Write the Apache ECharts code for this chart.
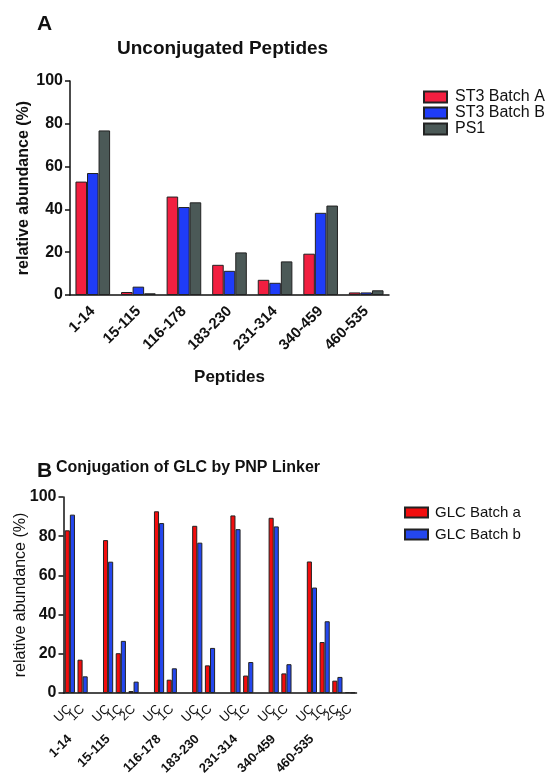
<!DOCTYPE html>
<html>
<head>
<meta charset="utf-8">
<script src="https://cdn.jsdelivr.net/npm/echarts@6/dist/echarts.min.js"></script>
<style>
html,body{margin:0;padding:0;background:#fff;}
#chartmain{width:554px;height:773px;}
</style>
</head>
<body>
<div id="chartmain"></div>
<script>
// panel A - unconjugated peptides
var peptides = ['1-14', '15-115', '116-178', '183-230', '231-314', '340-459', '460-535'];
var st3BatchA = [53, 1.4, 46, 14.1, 7.1, 19.3, 1.2];
var st3BatchB = [57, 3.9, 41.1, 11.3, 5.7, 38.4, 1.2];
var ps1 = [76.9, 0.8, 43.3, 19.9, 15.7, 41.8, 2.2];

// panel B - one slot per conjugation state, '' slots are spacers
var subLabelsB = ['UC', '1C', '', 'UC', '1C', '2C', '', 'UC', '1C', '', 'UC', '1C', '', 'UC', '1C', '', 'UC', '1C', '', 'UC', '1C', '2C', '3C'];
var groupLabelsB = ['1-14', '', '', '15-115', '', '', '', '116-178', '', '', '183-230', '', '', '231-314', '', '', '340-459', '', '', '460-535', '', '', ''];
var glcBatchA = [83, 17, '-', 78, 20.3, 1, '-', 92.7, 6.8, '-', 85.3, 14.1, '-', 90.6, 8.9, '-', 89.4, 10, '-', 67.1, 26, 6.3, 0.5];
var glcBatchB = [91, 8.5, '-', 67, 26.6, 5.8, '-', 86.7, 12.6, '-', 76.7, 23, '-', 83.6, 15.8, '-', 85, 14.7, '-', 53.8, 36.6, 8.2, 0.3];

var yMin = 0, yMax = 100, yStep = 20;

var font = 'Liberation Sans';
var ink = '#111';

var slotIds = subLabelsB.map(function (s, i) { return 'slot' + i; });

function valueAxis(gridIndex, nameGap, nameWeight) {
    return {
        type: 'value',
        gridIndex: gridIndex,
        min: yMin,
        max: yMax,
        interval: yStep,
        name: 'relative abundance (%)',
        nameLocation: 'middle',
        nameGap: nameGap,
        nameMoveOverlap: false,
        nameTextStyle: {color: ink, fontFamily: font, fontSize: 16, fontWeight: nameWeight},
        splitLine: {show: false},
        axisLine: {show: true, lineStyle: {color: ink, width: 1.5}},
        axisTick: {show: true, length: 5, lineStyle: {color: ink, width: 1.5}},
        axisLabel: {color: ink, fontFamily: font, fontSize: 16, fontWeight: 'bold', margin: 7}
    };
}

function titleText(text, left, top, size) {
    return {text: text, left: left, top: top, padding: 0,
        textStyle: {color: ink, fontFamily: font, fontSize: size, fontWeight: 'bold'}};
}

var barBorder = {borderColor: '#222', borderWidth: 1};

option = {
    animation: false,
    backgroundColor: '#fff',
    title: [
        titleText('A', 37, 14, 21),
        titleText('Unconjugated Peptides', 117, 39, 19),
        titleText('B', 37, 461, 21),
        titleText('Conjugation of GLC by PNP Linker', 56, 460, 16)
    ],
    legend: [
        {
            data: ['ST3 Batch A', 'ST3 Batch B', 'PS1'],
            orient: 'vertical',
            left: 418,
            top: 84,
            icon: 'rect',
            itemWidth: 23,
            itemHeight: 11,
            itemGap: 0,
            textStyle: {color: ink, fontFamily: font, fontSize: 16, padding: [0, 0, 0, 3]}
        },
        {
            data: ['GLC Batch a', 'GLC Batch b'],
            orient: 'vertical',
            left: 399,
            top: 500,
            icon: 'rect',
            itemWidth: 23,
            itemHeight: 10,
            itemGap: 7,
            textStyle: {color: ink, fontFamily: font, fontSize: 15, padding: [0, 0, 0, 2]}
        }
    ],
    grid: [
        {left: 70, top: 81, width: 319, height: 214, outerBoundsMode: 'none'},
        {left: 63.5, top: 497, width: 293, height: 196, outerBoundsMode: 'none'}
    ],
    xAxis: [
        {
            type: 'category',
            gridIndex: 0,
            position: 'bottom',
            data: peptides,
            name: 'Peptides',
            nameLocation: 'middle',
            nameGap: 74,
            nameMoveOverlap: false,
            nameTextStyle: {color: ink, fontFamily: font, fontSize: 17, fontWeight: 'bold'},
            axisLine: {lineStyle: {color: ink, width: 1.5}},
            axisTick: {alignWithLabel: true, length: 5, lineStyle: {color: ink, width: 1.5}},
            axisLabel: {interval: 0, rotate: 45, margin: 14, color: ink, fontFamily: font, fontSize: 15, fontWeight: 'bold'}
        },
        {
            type: 'category',
            gridIndex: 1,
            position: 'bottom',
            data: slotIds,
            axisLine: {lineStyle: {color: ink, width: 1.5}},
            axisTick: {alignWithLabel: true, interval: 0, length: 5, lineStyle: {color: ink, width: 1.5}},
            axisLabel: {
                interval: 0, rotate: 45, margin: 14, color: ink, fontFamily: font, fontSize: 13,
                formatter: function (v, i) { return subLabelsB[i]; }
            }
        },
        {
            // peptide names under the UC / 1C labels
            type: 'category',
            gridIndex: 1,
            position: 'bottom',
            offset: 0,
            data: slotIds,
            axisLine: {show: false},
            axisTick: {show: false},
            axisLabel: {
                interval: 0, rotate: 45, margin: 44, color: ink, fontFamily: font, fontSize: 13, fontWeight: 'bold',
                formatter: function (v, i) { return groupLabelsB[i]; }
            }
        }
    ],
    yAxis: [
        valueAxis(0, 38, 'bold'),
        valueAxis(1, 35, 'normal')
    ],
    series: [
        {name: 'ST3 Batch A', type: 'bar', xAxisIndex: 0, yAxisIndex: 0, data: st3BatchA,
            barGap: '0%', barCategoryGap: '24%', itemStyle: Object.assign({color: '#f21f40'}, barBorder)},
        {name: 'ST3 Batch B', type: 'bar', xAxisIndex: 0, yAxisIndex: 0, data: st3BatchB,
            itemStyle: Object.assign({color: '#1f3cf8'}, barBorder)},
        {name: 'PS1', type: 'bar', xAxisIndex: 0, yAxisIndex: 0, data: ps1,
            itemStyle: Object.assign({color: '#4b5957'}, barBorder)},
        {name: 'GLC Batch a', type: 'bar', xAxisIndex: 1, yAxisIndex: 1, data: glcBatchA,
            barGap: '0%', barCategoryGap: '20%', itemStyle: Object.assign({color: '#f20d0d'}, barBorder)},
        {name: 'GLC Batch b', type: 'bar', xAxisIndex: 1, yAxisIndex: 1, data: glcBatchB,
            itemStyle: Object.assign({color: '#2447ee'}, barBorder)}
    ]
};

var myChart = echarts.init(document.getElementById('chartmain'));
myChart.setOption(option);
</script>
</body>
</html>
